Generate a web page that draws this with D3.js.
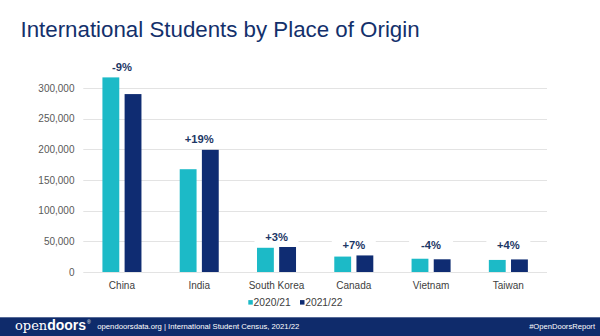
<!DOCTYPE html>
<html>
<head>
<meta charset="utf-8">
<script src="https://cdn.jsdelivr.net/npm/d3@7"></script>
<style>
  html, body { margin: 0; padding: 0; background: #ffffff; }
  svg { display: block; font-family: "Liberation Sans", Arial, sans-serif; }
</style>
</head>
<body>
<svg id="chart" width="600" height="336"></svg>
<script>
// International students by place of origin, two academic years
const countries = ["China", "India", "South Korea", "Canada", "Vietnam", "Taiwan"];
const years = ["2020/21", "2021/22"];
const students2021 = [317299, 167582, 39491, 25143, 21631, 19673];
const students2122 = [290086, 199182, 40755, 27013, 20713, 20487];
const yTicks = [0, 50000, 100000, 150000, 200000, 250000, 300000];

const colors = { "2020/21": "#1cbac7", "2021/22": "#0f2c72" };
const navy = "#13306b";

const rows = countries.map((c, i) => ({
  country: c,
  values: [
    { year: years[0], value: students2021[i] },
    { year: years[1], value: students2122[i] }
  ]
}));

const svg = d3.select("#chart");

// Title
svg.append("text")
  .attr("x", 20.5).attr("y", 36.7)
  .attr("font-size", 22.3)
  .attr("fill", navy)
  .text("International Students by Place of Origin");

// Scales
const x0 = d3.scaleBand()
  .domain(countries)
  .range([83.3, 547])
  .paddingInner(0.495)
  .paddingOuter(0.2475);

const x1 = d3.scaleBand()
  .domain(years)
  .range([0, x0.bandwidth()])
  .paddingInner(0.24);

const y = d3.scaleLinear()
  .domain([0, 300000])
  .range([272, 88]);

// Gridlines
svg.append("g")
  .selectAll("line")
  .data(yTicks)
  .join("line")
  .attr("x1", 83.3).attr("x2", 547)
  .attr("y1", d => Math.round(y(d)) + 0.5)
  .attr("y2", d => Math.round(y(d)) + 0.5)
  .attr("stroke", "#e3e3e3")
  .attr("stroke-width", 1);

// Y axis labels
const yAxis = d3.axisLeft(y)
  .tickValues(yTicks)
  .tickFormat(d3.format(","))
  .tickSize(0)
  .tickPadding(0);

svg.append("g")
  .attr("transform", "translate(74.5,0)")
  .call(yAxis)
  .call(g => g.select(".domain").remove())
  .call(g => g.selectAll("text")
    .attr("font-size", 10)
    .attr("font-family", "Liberation Sans, Arial, sans-serif")
    .attr("fill", "#595959"));

// Bars
const groups = svg.append("g")
  .selectAll("g")
  .data(rows)
  .join("g")
  .attr("transform", d => `translate(${x0(d.country)},0)`);

groups.selectAll("rect")
  .data(d => d.values)
  .join("rect")
  .attr("x", d => x1(d.year))
  .attr("width", x1.bandwidth())
  .attr("y", d => y(d.value))
  .attr("height", d => y(0) - y(d.value))
  .attr("fill", d => colors[d.year]);

// Year-over-year change labels
function pctLabel(a, b) {
  const p = Math.round((b - a) / a * 100);
  return (p >= 0 ? "+" : "-") + Math.abs(p) + "%";
}

const labels = svg.append("g")
  .selectAll("g")
  .data(rows)
  .join("g")
  .attr("transform", d => {
    const top = y(d3.max(d.values, v => v.value));
    const cy = Math.min(top - 10.5, y(44200));
    return `translate(${x0(d.country) + x0.bandwidth() / 2},${cy})`;
  });

labels.append("rect")
  .attr("x", -22).attr("y", -7.5)
  .attr("width", 44).attr("height", 15)
  .attr("fill", "#ffffff");

labels.append("text")
  .attr("text-anchor", "middle")
  .attr("dy", "0.36em")
  .attr("font-size", 11.2)
  .attr("font-weight", "bold")
  .attr("fill", "#1d3766")
  .text(d => pctLabel(d.values[0].value, d.values[1].value));

// Category labels
svg.append("g")
  .selectAll("text")
  .data(countries)
  .join("text")
  .attr("x", d => x0(d) + x0.bandwidth() / 2)
  .attr("y", 285)
  .attr("dy", "0.36em")
  .attr("text-anchor", "middle")
  .attr("font-size", 10)
  .attr("fill", "#404040")
  .text(d => d);

// Legend
const legendX = [248.3, 300];
const legend = svg.append("g")
  .selectAll("g")
  .data(years)
  .join("g")
  .attr("transform", (d, i) => `translate(${legendX[i]},302.3)`);

legend.append("rect")
  .attr("x", 0).attr("y", -2.2)
  .attr("width", 4.5).attr("height", 4.5)
  .attr("fill", d => colors[d]);

legend.append("text")
  .attr("x", 5.2)
  .attr("dy", "0.36em")
  .attr("font-size", 10.3)
  .attr("fill", "#404040")
  .text(d => d);

// Footer band
svg.append("rect")
  .attr("x", 0).attr("y", 317.3)
  .attr("width", 600).attr("height", 19)
  .attr("fill", "#0f2b6b");

const logo = svg.append("text")
  .attr("x", 15).attr("y", 330)
  .attr("fill", "#ffffff")
  .attr("font-size", 14);
logo.append("tspan")
  .attr("font-family", "DejaVu Serif, serif")
  .attr("font-weight", "normal")
  .attr("font-size", 13)
  .text("open");
logo.append("tspan")
  .attr("font-family", "Liberation Sans, Arial, sans-serif")
  .attr("font-weight", "bold")
  .attr("font-size", 14)
  .text("doors");
logo.append("tspan")
  .attr("font-size", 5)
  .attr("dy", -6)
  .attr("dx", 1)
  .text("®");

svg.append("text")
  .attr("x", 97.3).attr("y", 329.3)
  .attr("font-size", 7.7)
  .attr("fill", "#ffffff")
  .text("opendoorsdata.org  |  International Student Census, 2021/22");

svg.append("text")
  .attr("x", 595).attr("y", 329.3)
  .attr("text-anchor", "end")
  .attr("font-size", 7.6)
  .attr("fill", "#ffffff")
  .text("#OpenDoorsReport");
</script>
</body>
</html>
